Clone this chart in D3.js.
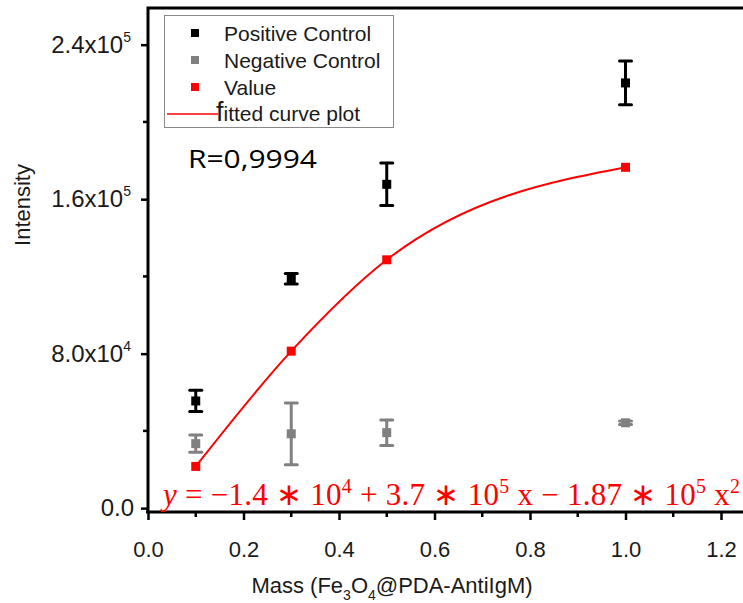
<!DOCTYPE html>
<html>
<head>
<meta charset="utf-8">
<script src="https://cdn.jsdelivr.net/npm/d3@7"></script>
<style>
  body { margin: 0; background: #fff; }
  text { font-family: "Liberation Sans", Arial, sans-serif; }
</style>
</head>
<body>
<div class="chart"></div>
<script>
// data
var masses = [0.1, 0.3, 0.5, 1.0];
var positive = [55500, 118800, 167700, 220200];
var positiveErr = [5500, 2700, 11000, 11300];
var negative = [33400, 38500, 39100, 44200];
var negativeErr = [4500, 16000, 6600, 900];
var values = [21600, 81300, 128600, 176500];
var xTicks = [0, 0.2, 0.4, 0.6, 0.8, 1.0, 1.2];
var yTicks = [0, 80000, 160000, 240000];
var yTickLabels = [["0.0", ""], ["8.0x10", "4"], ["1.6x10", "5"], ["2.4x10", "5"]];

var width = 743, height = 603;
var margin = {top: 8, left: 148, bottom: 91};

var svg = d3.select(".chart").append("svg")
    .attr("width", width)
    .attr("height", height);

var x = d3.scaleLinear().domain([0, 1.25]).range([margin.left, margin.left + 1.25 * 477.5]);
var y = d3.scaleLinear().domain([-2000, 259000]).range([height - margin.bottom, margin.top]);

var plotBottom = height - margin.bottom;

// axes
var xAxis = svg.append("g")
    .attr("transform", "translate(0," + plotBottom + ")")
    .call(d3.axisBottom(x).tickValues(xTicks).tickSize(8).tickFormat(d3.format(".1f")));
xAxis.select(".domain").remove();
xAxis.selectAll(".tick line").attr("stroke-width", 2.5);
xAxis.selectAll(".tick text")
    .attr("font-size", 22).attr("fill", "#1a1a1a")
    .attr("y", 45).attr("dy", 0);
svg.append("g")
    .attr("transform", "translate(0," + plotBottom + ")")
    .selectAll("line").data(d3.range(0.1, 1.25, 0.2)).enter().append("line")
    .attr("x1", function(d) { return x(d); }).attr("x2", function(d) { return x(d); })
    .attr("y1", 0).attr("y2", 5).attr("stroke", "#000").attr("stroke-width", 2.5);

var yAxis = svg.append("g")
    .attr("transform", "translate(" + margin.left + ",0)")
    .call(d3.axisLeft(y).tickValues(yTicks).tickSize(7).tickFormat(""));
yAxis.select(".domain").remove();
yAxis.selectAll(".tick line").attr("stroke-width", 2.5);
svg.append("g")
    .attr("transform", "translate(" + margin.left + ",0)")
    .selectAll("line").data([40000, 120000, 200000]).enter().append("line")
    .attr("x1", 0).attr("x2", -5)
    .attr("y1", function(d) { return y(d); }).attr("y2", function(d) { return y(d); })
    .attr("stroke", "#000").attr("stroke-width", 2.5);

var yl = svg.append("g").selectAll("text").data(yTicks).enter().append("text")
    .attr("x", margin.left - 14)
    .attr("y", function(d) { return y(d) + 8; })
    .attr("text-anchor", "end")
    .attr("font-size", 24)
    .attr("fill", "#1a1a1a");
yl.append("tspan").text(function(d, i) { return yTickLabels[i][0]; });
yl.append("tspan").attr("dy", -11).attr("font-size", 14)
    .text(function(d, i) { return yTickLabels[i][1]; });
yl.filter(function(d, i) { return yTickLabels[i][1] !== ""; }).attr("x", margin.left - 17);

// frame
svg.append("path")
    .attr("d", "M" + margin.left + "," + plotBottom + "V" + margin.top + "H" + width)
    .attr("fill", "none").attr("stroke", "#000").attr("stroke-width", 3);
svg.append("line")
    .attr("x1", margin.left - 2).attr("x2", width)
    .attr("y1", plotBottom).attr("y2", plotBottom)
    .attr("stroke", "#000").attr("stroke-width", 3);

// axis titles
svg.append("text")
    .attr("transform", "translate(30,205) rotate(-90)")
    .attr("text-anchor", "middle").attr("font-size", 22).attr("fill", "#1a1a1a")
    .text("Intensity");
var xt = svg.append("text")
    .attr("x", 392).attr("y", 593)
    .attr("text-anchor", "middle").attr("font-size", 22).attr("fill", "#1a1a1a");
xt.append("tspan").text("Mass (Fe");
xt.append("tspan").attr("font-size", 14).attr("dy", 7).text("3");
xt.append("tspan").attr("dy", -7).text("O");
xt.append("tspan").attr("font-size", 14).attr("dy", 7).text("4");
xt.append("tspan").attr("dy", -7).text("@PDA-AntiIgM)");

// fitted curve through values
var line = d3.line()
    .x(function(d, i) { return x(masses[i]); })
    .y(function(d) { return y(d); })
    .curve(d3.curveMonotoneX);
svg.append("path").datum(values)
    .attr("d", line)
    .attr("fill", "none").attr("stroke", "#ff0000").attr("stroke-width", 2);

// error bars + markers
function drawSeries(vals, errs, color) {
    var g = svg.append("g");
    var cap = 6;
    masses.forEach(function(m, i) {
        if (errs) {
            var cx = x(m);
            g.append("line").attr("x1", cx).attr("x2", cx)
                .attr("y1", y(vals[i] - errs[i])).attr("y2", y(vals[i] + errs[i]))
                .attr("stroke", color).attr("stroke-width", 3);
            [vals[i] - errs[i], vals[i] + errs[i]].forEach(function(v) {
                g.append("line").attr("x1", cx - cap).attr("x2", cx + cap)
                    .attr("y1", y(v)).attr("y2", y(v))
                    .attr("stroke", color).attr("stroke-width", 3)
                    .attr("stroke-linecap", "round");
            });
        }
        g.append("rect")
            .attr("x", x(m) - 4.5).attr("y", y(vals[i]) - 4.5)
            .attr("width", 9).attr("height", 9)
            .attr("fill", color);
    });
}
drawSeries(positive, positiveErr, "#000");
drawSeries(negative, negativeErr, "#808080");
drawSeries(values, null, "#ff0000");

// legend
var legend = svg.append("g");
legend.append("rect")
    .attr("x", 164.5).attr("y", 15.5).attr("width", 229).attr("height", 112)
    .attr("fill", "#fff").attr("stroke", "#888").attr("stroke-width", 1);
var legendItems = [
    {name: "Positive Control", color: "#000"},
    {name: "Negative Control", color: "#808080"},
    {name: "Value", color: "#ff0000"}
];
legendItems.forEach(function(d, i) {
    var cy = 33 + i * 27;
    legend.append("rect").attr("x", 191).attr("y", cy - 4).attr("width", 8).attr("height", 8)
        .attr("fill", d.color);
    legend.append("text").attr("x", 224).attr("y", cy + 8)
        .attr("font-size", 21).attr("fill", "#1a1a1a")
        .text(d.name);
});
legend.append("line").attr("x1", 167).attr("x2", 218).attr("y1", 114).attr("y2", 114)
    .attr("stroke", "#ff0000").attr("stroke-width", 1.5);
var ft = legend.append("text").attr("x", 216).attr("y", 121)
    .attr("font-size", 21).attr("fill", "#1a1a1a");
ft.append("tspan").attr("font-size", 27).text("f");
ft.append("tspan").text("itted curve plot");

// annotations
svg.append("text").attr("x", 188).attr("y", 168)
    .attr("font-size", 26).attr("fill", "#000")
    .style("font-family", "'Open Sans', sans-serif")
    .attr("textLength", 129).attr("lengthAdjust", "spacingAndGlyphs")
    .text("R=0,9994");

var eq = svg.append("text").attr("x", 163).attr("y", 505)
    .style("font-family", "'Liberation Serif', serif")
    .attr("font-size", 31).attr("fill", "#ff0000")
    .attr("textLength", 577).attr("lengthAdjust", "spacing");
eq.append("tspan").attr("font-style", "italic").text("y");
eq.append("tspan").text(" = \u22121.4 \u2217 10");
eq.append("tspan").attr("dy", -12).attr("font-size", 20).text("4");
eq.append("tspan").attr("dy", 12).text(" + 3.7 \u2217 10");
eq.append("tspan").attr("dy", -12).attr("font-size", 20).text("5");
eq.append("tspan").attr("dy", 12).text(" x \u2212 1.87 \u2217 10");
eq.append("tspan").attr("dy", -12).attr("font-size", 20).text("5");
eq.append("tspan").attr("dy", 12).text(" x");
eq.append("tspan").attr("dy", -12).attr("font-size", 20).text("2");
</script>
</body>
</html>
